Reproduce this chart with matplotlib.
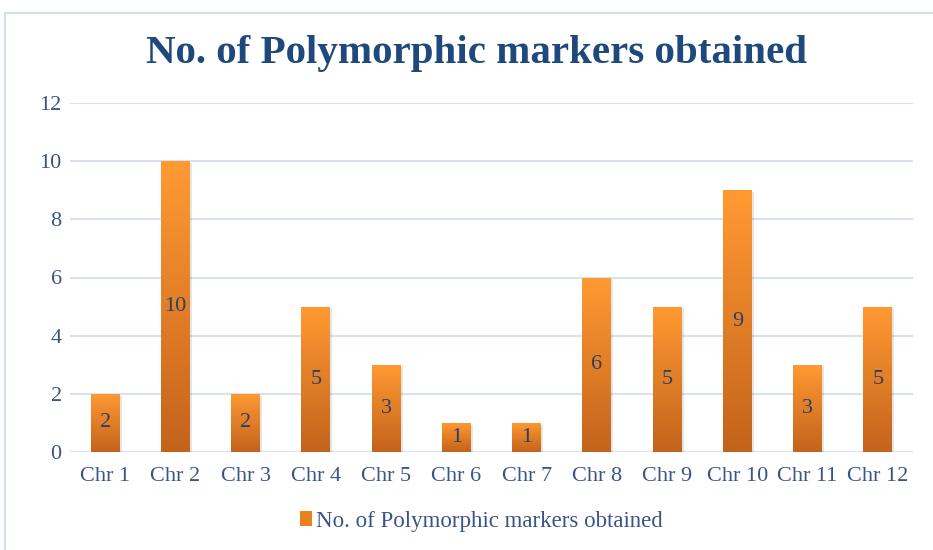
import numpy as np
import matplotlib.pyplot as plt
from matplotlib.colors import LinearSegmentedColormap
from matplotlib.lines import Line2D
from matplotlib.patches import Patch

# ── data ──────────────────────────────────────────────────────────────────────
categories = ['Chr 1', 'Chr 2', 'Chr 3', 'Chr 4', 'Chr 5', 'Chr 6',
              'Chr 7', 'Chr 8', 'Chr 9', 'Chr 10', 'Chr 11', 'Chr 12']
markers = [2, 10, 2, 5, 3, 1, 1, 6, 5, 9, 3, 5]
series_name = 'No. of Polymorphic markers obtained'
title = 'No. of Polymorphic markers obtained'
yticks = [0, 2, 4, 6, 8, 10, 12]

# ── style ─────────────────────────────────────────────────────────────────────
TITLE_C = '#1F497D'
TEXT_C = '#3B5486'
LABEL_C = '#2E3F63'
GRID_C = '#D6E2F1'
BORDER_C = '#D3DFEE'
ORANGE_TOP = '#FF9A33'
ORANGE_BOT = '#C4631C'

plt.rcParams['font.family'] = ['Liberation Serif', 'DejaVu Serif']

fig = plt.figure(figsize=(9.33, 5.5), dpi=100, facecolor='white')
ax = fig.add_axes([70 / 933, 1 - 452 / 550, 843 / 933, 349 / 550])

x = np.arange(len(categories))
width = 0.41
grad = LinearSegmentedColormap.from_list('og', [ORANGE_BOT, ORANGE_TOP])
bars = ax.bar(x, markers, width=width, color=ORANGE_TOP, zorder=3,
              edgecolor='none')

# vertical gradient fill clipped to each bar, plus a faint shadow
for b in bars:
    x0, y0 = b.get_x(), b.get_y()
    w, h = b.get_width(), b.get_height()
    ax.bar(x0 + w / 2 + 0.03, h, width=w, bottom=-0.06, color='#000000',
           alpha=0.10, zorder=2, edgecolor='none')
    img = ax.imshow(np.linspace(0, 1, 100).reshape(-1, 1), cmap=grad,
                    origin='lower', aspect='auto',
                    extent=[x0, x0 + w, y0, y0 + h], zorder=4)
    img.set_clip_path(b)

for xi, v in zip(x, markers):
    ax.text(xi, v / 2, str(v), ha='center', va='center', fontsize=16,
            color=LABEL_C, zorder=5)

ax.set_xlim(-0.5, len(categories) - 0.5)
ax.set_ylim(0, 12)
ax.set_yticks(yticks)
ax.set_xticks(x)
ax.set_xticklabels(categories)
ax.tick_params(axis='both', length=0, labelsize=16, colors=TEXT_C)
ax.tick_params(axis='y', pad=6)
ax.tick_params(axis='x', pad=11)
ax.grid(axis='y', color=GRID_C, lw=1.5, zorder=0)
ax.set_axisbelow(True)
for sp in ax.spines.values():
    sp.set_visible(False)

fig.text(476 / 933, 1 - 53 / 550, title, ha='center', va='center',
         fontsize=29.5, fontweight='bold', color=TITLE_C)

leg = fig.legend(handles=[Patch(facecolor='#E8821F', edgecolor='none',
                                label=series_name)],
                 loc='center', bbox_to_anchor=(481 / 933, 1 - 521 / 550),
                 frameon=False, fontsize=16.5, handlelength=0.55,
                 handleheight=0.6, handletextpad=0.15)
for t in leg.get_texts():
    t.set_color(TEXT_C)

# light chart border (top and left edges visible in the frame)
fig.add_artist(Line2D([5 / 933, 1.0], [1 - 13 / 550, 1 - 13 / 550],
                      transform=fig.transFigure, color=BORDER_C, lw=1.5))
fig.add_artist(Line2D([5 / 933, 5 / 933], [0, 1 - 13 / 550],
                      transform=fig.transFigure, color=BORDER_C, lw=1.5))

fig.savefig('out.png', dpi=100)
